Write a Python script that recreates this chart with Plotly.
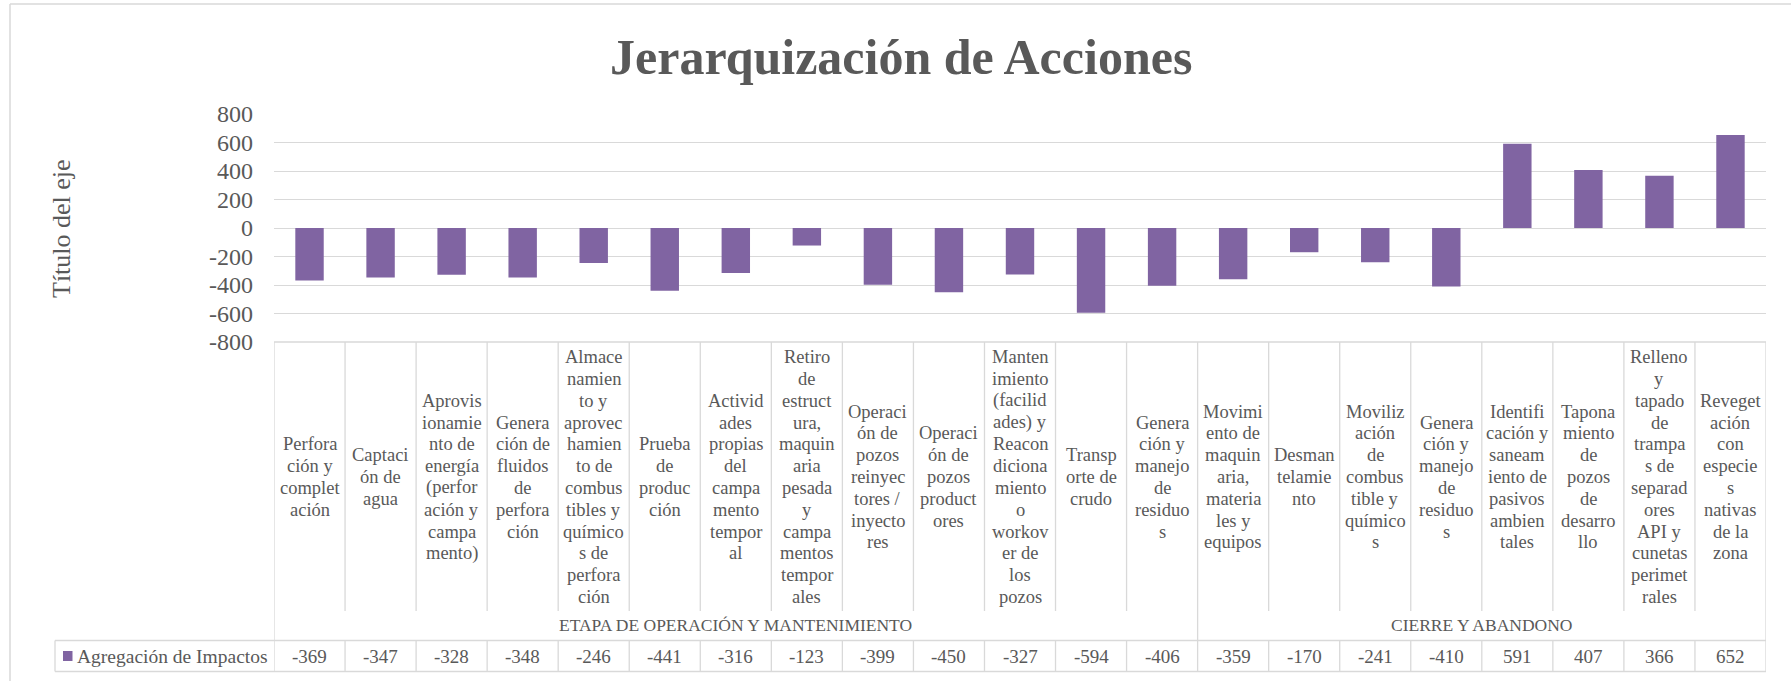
import plotly.graph_objects as go

# ---- data -------------------------------------------------------------
CATEGORY_LINES = [
    ["Perfora", "ción y", "complet", "ación"],
    ["Captaci", "ón de", "agua"],
    ["Aprovis", "ionamie", "nto de", "energía", "(perfor", "ación y", "campa", "mento)"],
    ["Genera", "ción de", "fluidos", "de", "perfora", "ción"],
    ["Almace", "namien", "to y", "aprovec", "hamien", "to de", "combus", "tibles y",
     "químico", "s de", "perfora", "ción"],
    ["Prueba", "de", "produc", "ción"],
    ["Activid", "ades", "propias", "del", "campa", "mento", "tempor", "al"],
    ["Retiro", "de", "estruct", "ura,", "maquin", "aria", "pesada", "y", "campa",
     "mentos", "tempor", "ales"],
    ["Operaci", "ón de", "pozos", "reinyec", "tores /", "inyecto", "res"],
    ["Operaci", "ón de", "pozos", "product", "ores"],
    ["Manten", "imiento", "(facilid", "ades) y", "Reacon", "diciona", "miento", "o",
     "workov", "er de", "los", "pozos"],
    ["Transp", "orte de", "crudo"],
    ["Genera", "ción y", "manejo", "de", "residuo", "s"],
    ["Movimi", "ento de", "maquin", "aria,", "materia", "les y", "equipos"],
    ["Desman", "telamie", "nto"],
    ["Moviliz", "ación", "de", "combus", "tible y", "químico", "s"],
    ["Genera", "ción y", "manejo", "de", "residuo", "s"],
    ["Identifi", "cación y", "saneam", "iento de", "pasivos", "ambien", "tales"],
    ["Tapona", "miento", "de", "pozos", "de", "desarro", "llo"],
    ["Relleno", "y", "tapado", "de", "trampa", "s de", "separad", "ores", "API y",
     "cunetas", "perimet", "rales"],
    ["Reveget", "ación", "con", "especie", "s", "nativas", "de la", "zona"],
]

IMPACTS = [-369, -347, -328, -348, -246, -441, -316, -123, -399, -450, -327,
           -594, -406, -359, -170, -241, -410, 591, 407, 366, 652]

# stage groups: (label, first category index, last category index)
STAGES = [
    ("ETAPA DE OPERACIÓN Y MANTENIMIENTO", 0, 12),
    ("CIERRE Y ABANDONO", 13, 20),
]

SERIES_NAME = "Agregación de Impactos"
TITLE = "Jerarquización de Acciones"
Y_TITLE = "Título del eje"
Y_TICKS = [800, 600, 400, 200, 0, -200, -400, -600, -800]

# ---- styling ----------------------------------------------------------
W, H = 1791, 681
PL, PR, PT, PB = 274, 1766, 114, 342          # plot area in pixels
BAR = "#8064A2"
TXT = "#595959"
GRID = "#D9D9D9"
FONT = "Liberation Serif"

n = len(IMPACTS)
xs = list(range(n))


def fx(px):
    """pixel x -> paper x"""
    return (px - PL) / (PR - PL)


def fy(py):
    """pixel y -> paper y"""
    return (PB - py) / (PB - PT)


fig = go.Figure()
fig.add_trace(go.Bar(
    x=xs, y=IMPACTS, name=SERIES_NAME, marker=dict(color=BAR, line=dict(width=0)),
    width=0.4, showlegend=False, hoverinfo="y",
))

shapes = []
annotations = []

# outer chart frame (top and left edges)
shapes.append(dict(type="line", xref="paper", yref="paper", x0=fx(10), x1=fx(W + 5),
                   y0=fy(4), y1=fy(4), line=dict(color=GRID, width=1.5)))
shapes.append(dict(type="line", xref="paper", yref="paper", x0=fx(10), x1=fx(10),
                   y0=fy(4), y1=fy(H + 5), line=dict(color=GRID, width=1.5)))

# data table geometry (pixels)
CAT_BOTTOM = 611
ROW_TOP = 640.5
ROW_BOTTOM = 671.5
LEFT_CELL = 55
LW = 1.3

# vertical lines between categories
for i in range(n + 1):
    xb = i - 0.5
    if i in (0, n):
        segs = [(PB, ROW_BOTTOM)]
    elif any(i == s[1] for s in STAGES[1:]):
        segs = [(PB, ROW_BOTTOM)]
    else:
        segs = [(PB, CAT_BOTTOM), (ROW_TOP, ROW_BOTTOM)]
    for a, b in segs:
        shapes.append(dict(type="line", xref="x", yref="paper", x0=xb, x1=xb,
                           y0=fy(a), y1=fy(b), line=dict(color=GRID, width=LW)))

# horizontal table lines
for yy, x0 in ((PB, PL), (ROW_TOP, LEFT_CELL), (ROW_BOTTOM, LEFT_CELL)):
    shapes.append(dict(type="line", xref="paper", yref="paper", x0=fx(x0), x1=fx(PR),
                       y0=fy(yy), y1=fy(yy), line=dict(color=GRID, width=LW)))
shapes.append(dict(type="line", xref="paper", yref="paper", x0=fx(LEFT_CELL),
                   x1=fx(LEFT_CELL), y0=fy(ROW_TOP), y1=fy(ROW_BOTTOM),
                   line=dict(color=GRID, width=LW)))

# category labels, one annotation per wrapped line
LINE_H = 21.8
CAT_CENTER = 477
for i, lines in enumerate(CATEGORY_LINES):
    k = len(lines)
    for j, t in enumerate(lines):
        py = CAT_CENTER + (j - (k - 1) / 2) * LINE_H
        annotations.append(dict(x=i, y=fy(py), xref="x", yref="paper", text=t,
                                showarrow=False, xanchor="center", yanchor="middle",
                                font=dict(family=FONT, size=18.5, color=TXT)))

# stage group labels
for label, a, b in STAGES:
    annotations.append(dict(x=(a + b) / 2, y=fy(625), xref="x", yref="paper",
                            text=label, showarrow=False, xanchor="center",
                            yanchor="middle",
                            font=dict(family=FONT, size=17.5, color=TXT)))

# value row
VAL_Y = 656
for i, v in enumerate(IMPACTS):
    annotations.append(dict(x=i, y=fy(VAL_Y), xref="x", yref="paper", text=str(v),
                            showarrow=False, xanchor="center", yanchor="middle",
                            font=dict(family=FONT, size=19, color=TXT)))

# legend key + series name in the table's first cell
shapes.append(dict(type="rect", xref="paper", yref="paper", x0=fx(63), x1=fx(72.5),
                   y0=fy(651), y1=fy(661), fillcolor=BAR, line=dict(width=0)))
annotations.append(dict(x=fx(75), y=fy(VAL_Y), xref="paper", yref="paper",
                        text=SERIES_NAME, showarrow=False, xanchor="left",
                        yanchor="middle", font=dict(family=FONT, size=19.5, color=TXT)))

# chart title
annotations.append(dict(x=fx(901), y=fy(57), xref="paper", yref="paper",
                        text="<b>" + TITLE + "</b>", showarrow=False,
                        xanchor="center", yanchor="middle",
                        font=dict(family=FONT, size=50, color=TXT)))

# y-axis title
annotations.append(dict(x=fx(61), y=fy(228), xref="paper", yref="paper",
                        text=Y_TITLE, showarrow=False, textangle=-90,
                        xanchor="center", yanchor="middle",
                        font=dict(family=FONT, size=26, color=TXT)))

fig.update_layout(
    width=W, height=H,
    margin=dict(l=PL, r=W - PR, t=PT, b=H - PB, pad=0),
    paper_bgcolor="white", plot_bgcolor="white",
    bargap=0.6,
    xaxis=dict(range=[-0.5, n - 0.5], showticklabels=False, showgrid=False,
               zeroline=False, showline=False, ticks="", fixedrange=True),
    yaxis=dict(range=[-800, 800], tickvals=Y_TICKS, ticktext=[str(t) for t in Y_TICKS],
               showgrid=True, gridcolor=GRID, gridwidth=1.4, zeroline=False,
               showline=False, ticks="", ticklabelstandoff=20,
               tickfont=dict(family=FONT, size=24, color=TXT), fixedrange=True),
    shapes=shapes,
    annotations=annotations,
    showlegend=False,
)

fig.write_html("out.html")
